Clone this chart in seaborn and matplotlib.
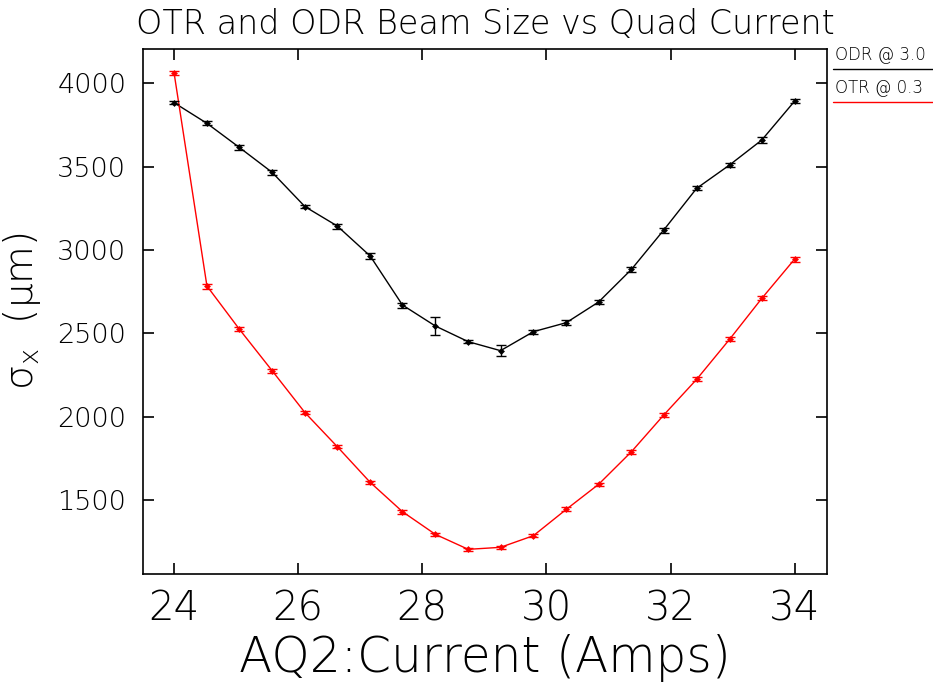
import matplotlib
matplotlib.use("Agg")
import matplotlib.pyplot as plt
import seaborn as sns
import pandas as pd
from matplotlib.lines import Line2D

# ---- data ----
current = [24.0, 24.53, 25.05, 25.58, 26.11, 26.63, 27.16, 27.68, 28.21, 28.74,
           29.26, 29.79, 30.32, 30.84, 31.37, 31.89, 32.42, 32.95, 33.47, 34.0]
odr_sigma = [3884, 3760, 3616, 3466, 3260, 3144, 2964, 2670, 2544, 2450,
             2396, 2510, 2564, 2688, 2884, 3120, 3370, 3510, 3660, 3894]
odr_err = [10, 12, 15, 15, 10, 15, 18, 15, 55, 10,
           32, 12, 15, 12, 15, 15, 12, 12, 20, 10]
otr_sigma = [4064, 2784, 2526, 2276, 2024, 1820, 1606, 1430, 1294, 1204,
             1216, 1286, 1444, 1594, 1790, 2010, 2224, 2464, 2710, 2946]
otr_err = [12, 15, 12, 12, 10, 10, 10, 12, 10, 10,
           10, 10, 12, 10, 12, 10, 12, 12, 12, 15]
series_labels = ["ODR @ 3.0", "OTR @ 0.3"]
x_ticks = [24, 26, 28, 30, 32, 34]
y_ticks = [1500, 2000, 2500, 3000, 3500, 4000]

sns.set_style("white")
plt.rcParams['font.family'] = ['DejaVu Sans']
plt.rcParams['font.weight'] = 'light'
plt.rcParams['axes.labelweight'] = 'light'
plt.rcParams['axes.titleweight'] = 'light'
plt.rcParams['mathtext.fontset'] = 'custom'
plt.rcParams['mathtext.rm'] = 'DejaVu Sans:light'
plt.rcParams['mathtext.it'] = 'DejaVu Sans:italic:light'
plt.rcParams['mathtext.bf'] = 'DejaVu Sans:bold'
plt.rcParams['text.color'] = 'black'
plt.rcParams['axes.labelcolor'] = 'black'

fig = plt.figure(figsize=(9.33, 6.85), dpi=100)
ax = fig.add_axes([143/933, 1-574/685, (827-143)/933, (574-49)/685])

df_odr = pd.DataFrame({"x": current, "y": odr_sigma})
df_otr = pd.DataFrame({"x": current, "y": otr_sigma})

sns.lineplot(data=df_odr, x="x", y="y", ax=ax, color="black", lw=1.0,
             marker="D", markersize=3.5, markeredgewidth=0, legend=False)
sns.lineplot(data=df_otr, x="x", y="y", ax=ax, color="#ff0000", lw=1.0,
             marker="D", markersize=3.5, markeredgewidth=0, legend=False)
ax.errorbar(current, odr_sigma, yerr=odr_err, fmt="none", ecolor="black",
            elinewidth=1.0, capsize=3.5, capthick=1.0)
ax.errorbar(current, otr_sigma, yerr=otr_err, fmt="none", ecolor="#ff0000",
            elinewidth=1.0, capsize=3.5, capthick=1.0)

ax.set_xlim(23.5, 34.52)
ax.set_ylim(1056, 4206)
ax.set_xticks(x_ticks)
ax.set_yticks(y_ticks)
ax.set_xticklabels([str(t) for t in x_ticks], fontsize=29, fontweight='light', color='black')
ax.set_yticklabels([str(t) for t in y_ticks], fontsize=19.5, fontweight='light', color='black')
ax.tick_params(axis='both', direction='in', length=8, width=1.2,
               top=True, right=True, bottom=True, left=True, colors='black')
ax.tick_params(axis='x', pad=11)
ax.tick_params(axis='y', pad=12)
for s in ax.spines.values():
    s.set_visible(True)
    s.set_color('black')
    s.set_linewidth(1.2)

ax.set_xlabel("AQ2:Current (Amps)", fontsize=35, fontweight='light', labelpad=4, color='black')
ax.set_ylabel(r"$\mathrm{\sigma}_{\mathrm{x}}$  ($\mathrm{\mu}$m)", fontsize=28, fontweight='light',
              labelpad=10, color='black')
ax.set_title("OTR and ODR Beam Size vs Quad Current", fontsize=24, fontweight='light',
             pad=11, color='black')

# legend outside right
fig.text(835/933, 1-55/685, series_labels[0], fontsize=12, fontweight='light',
         va='center', ha='left', color='black')
fig.text(835/933, 1-88/685, series_labels[1], fontsize=12, fontweight='light',
         va='center', ha='left', color='black')
fig.add_artist(Line2D([833/933, 1.0], [1-69/685, 1-69/685], color='black', lw=1.0,
                      transform=fig.transFigure))
fig.add_artist(Line2D([833/933, 1.0], [1-102/685, 1-102/685], color='#ff0000', lw=1.0,
                      transform=fig.transFigure))

fig.savefig("out.png", dpi=100)
